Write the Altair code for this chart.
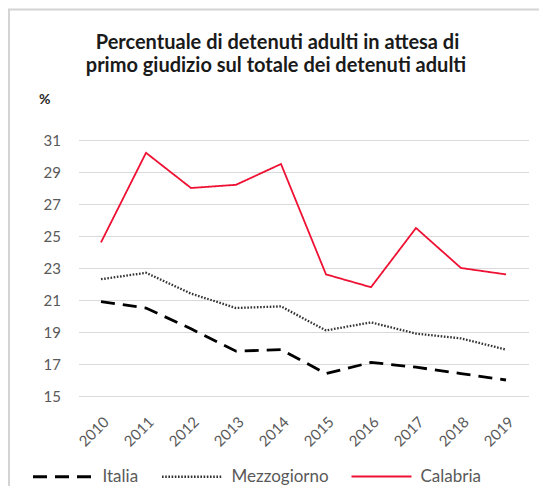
import altair as alt
import pandas as pd

years = ["2010", "2011", "2012", "2013", "2014", "2015", "2016", "2017", "2018", "2019"]
italia = [20.9, 20.5, 19.2, 17.8, 17.9, 16.4, 17.1, 16.8, 16.4, 16.0]
mezzogiorno = [22.3, 22.7, 21.4, 20.5, 20.6, 19.1, 19.6, 18.9, 18.6, 17.9]
calabria = [24.6, 30.2, 28.0, 28.2, 29.5, 22.6, 21.8, 25.5, 23.0, 22.6]
series = ["Italia", "Mezzogiorno", "Calabria"]
y_ticks = [15, 17, 19, 21, 23, 25, 27, 29, 31]
title_lines = ["Percentuale di detenuti adulti in attesa di",
               "primo giudizio sul totale dei detenuti adulti"]

rows = []
for name, vals in zip(series, [italia, mezzogiorno, calabria]):
    for yr, v in zip(years, vals):
        rows.append({"Anno": yr, "Valore": v, "Serie": name})
df = pd.DataFrame(rows)

FONT = "Lato"
GREY = "#595959"

legend_cfg = dict(title=None, orient="none", direction="horizontal",
                  legendX=-47, legendY=305, padding=0,
                  symbolType="stroke", symbolSize=3600,
                  symbolStrokeWidth=2.2,
                  labelFontSize=17, labelColor=GREY,
                  labelFont=FONT, labelOffset=8, columnPadding=18)

lines = alt.Chart(df).mark_line().encode(
    x=alt.X("Anno:O", sort=years,
            scale=alt.Scale(type="point", padding=0.5),
            axis=alt.Axis(title=None, labelAngle=-45, labelFontSize=15,
                          labelColor=GREY, labelFont=FONT, ticks=False,
                          domain=False, grid=False, labelPadding=18)),
    y=alt.Y("Valore:Q",
            scale=alt.Scale(domain=[15, 31], nice=False, zero=False),
            axis=alt.Axis(title="%", values=y_ticks, labelFontSize=15,
                          labelColor=GREY, labelFont=FONT, ticks=False,
                          domain=False, grid=True, gridColor="#d9d9d9",
                          gridWidth=1, labelPadding=18,
                          titleAngle=0, titleAlign="left",
                          titleBaseline="alphabetic", titleX=-40, titleY=-37,
                          titleFontSize=14, titleFont=FONT,
                          titleFontWeight="bold", titleColor="#262626")),
    color=alt.Color("Serie:N",
                    scale=alt.Scale(domain=series,
                                    range=["#000000", "#333333", "#EE1133"]),
                    legend=alt.Legend(**legend_cfg)),
    strokeDash=alt.StrokeDash("Serie:N",
                              scale=alt.Scale(domain=series,
                                              range=[[14, 8], [1.6, 1.6], [1, 0]]),
                              legend=alt.Legend(**legend_cfg)),
    strokeWidth=alt.StrokeWidth("Serie:N",
                                scale=alt.Scale(domain=series,
                                                range=[2.8, 1.8, 2.4]),
                                legend=None),
)

frame = alt.Chart(alt.Data(values=[{}])).mark_rect(
    fill=None, stroke="#d4d4d4", strokeWidth=2
).encode(
    x=alt.value(-69.5), x2=alt.value(700), y=alt.value(-130.5), y2=alt.value(600)
)

title_style = dict(font=FONT, fontSize=20, fontWeight="bold",
                   color="#1a1a1a", align="center", baseline="alphabetic")
t1 = alt.Chart(alt.Data(values=[{}])).mark_text(text=title_lines[0], **title_style).encode(
    x=alt.value(199), y=alt.value(-91))
t2 = alt.Chart(alt.Data(values=[{}])).mark_text(text=title_lines[1], **title_style).encode(
    x=alt.value(197.5), y=alt.value(-68))

chart = alt.layer(frame, lines, t1, t2).properties(
    width=450,
    height=256,
    autosize=alt.AutoSizeParams(type="none"),
    padding={"left": 70.5, "top": 132, "right": 10.5, "bottom": 90},
).configure(background="white").configure_view(stroke=None)

chart.save("out.html", embed_options={"renderer": "svg", "actions": False})
